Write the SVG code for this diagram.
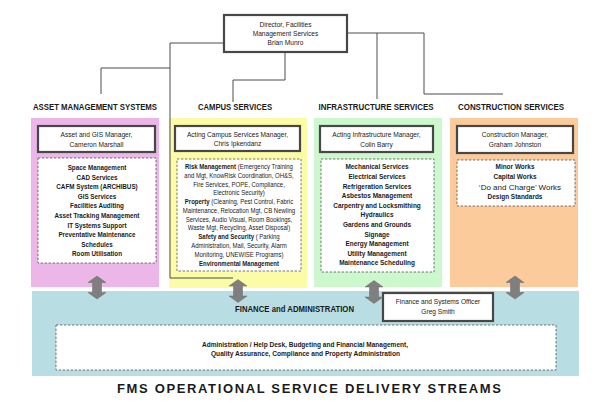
<svg xmlns="http://www.w3.org/2000/svg" width="600" height="409" viewBox="0 0 600 409">
<defs>
<style>
text{font-family:"Liberation Sans",Arial,sans-serif;fill:#1a1a1a;text-anchor:middle}
.hdr{font-size:8.5px;font-weight:bold}
.mgr{fill:#fff;stroke:#474747;stroke-width:2.2}
.mt{font-size:6.6px}
.dash{fill:#fff;stroke:#555;stroke-width:0.8;stroke-dasharray:2.4 1.6}
.lb{font-size:7.2px;font-weight:bold}
.ly{font-size:6.6px}
.b{font-weight:bold}
.conn{fill:none;stroke:#4d4d4d;stroke-width:1}
.arr{fill:#7f7f7f;stroke:#6a6a6a;stroke-width:0.5}
</style>
<path id="dbl" d="M0,-11.5 L9,-5 L4.5,-5 L4.5,5 L9,5 L0,11.5 L-9,5 L-4.5,5 L-4.5,-5 L-9,-5 Z"/>
</defs>
<rect width="600" height="409" fill="#fff"/>

<g id="panels">
<rect x="31" y="118" width="128" height="169" fill="#EDB6E9"/>
<rect x="169" y="118" width="138" height="170" fill="#FDFCA6"/>
<rect x="314" y="118" width="128" height="169" fill="#CDF7CD"/>
<rect x="450" y="118" width="128" height="169" fill="#FCCB9C"/>
<rect x="32" y="291" width="547" height="85" fill="#B8DEE3"/>
</g>

<g id="director">
<rect class="mgr" x="224" y="15" width="123" height="37"/>
<text class="mt" x="285.5" y="26.5" font-size="6.8">Director, Facilities</text>
<text class="mt" x="285.5" y="35.5">Management Services</text>
<text class="mt" x="285.5" y="45">Brian Munro</text>
</g>

<g id="connectors">
<polyline class="conn" points="224,43 170,43 170,278 233,278"/>
<polyline class="conn" points="170,68 101,68 101,94"/>
<polyline class="conn" points="285,52 285,80 233,80 233,102"/>
<polyline class="conn" points="347,33 424,33 424,94 503,94"/>
<polyline class="conn" points="377,33 377,99"/>
</g>

<g id="asset-management">
<text class="hdr" x="95" y="110" textLength="124" lengthAdjust="spacingAndGlyphs">ASSET MANAGEMENT SYSTEMS</text>
<rect class="mgr" x="38" y="126" width="117" height="26"/>
<text class="mt" x="96.5" y="136.5">Asset and GIS Manager,</text>
<text class="mt" x="96.5" y="146.5">Cameron Marshall</text>
<rect class="dash" x="38" y="158" width="118" height="105"/>
<g transform="translate(97,0) scale(0.875,1)">
<text class="lb" x="0" y="170">Space Management</text>
<text class="lb" x="0" y="179.6">CAD Services</text>
<text class="lb" x="0" y="189.2">CAFM System (ARCHIBUS)</text>
<text class="lb" x="0" y="198.8">GIS Services</text>
<text class="lb" x="0" y="208.4">Facilities Auditing</text>
<text class="lb" x="0" y="218">Asset Tracking Management</text>
<text class="lb" x="0" y="227.6">IT Systems Support</text>
<text class="lb" x="0" y="237.2">Preventative Maintenance</text>
<text class="lb" x="0" y="246.8">Schedules</text>
<text class="lb" x="0" y="256.4">Room Utilisation</text>
</g>
</g>

<g id="campus-services">
<text class="hdr" x="235" y="110" textLength="74" lengthAdjust="spacingAndGlyphs">CAMPUS SERVICES</text>
<rect class="mgr" x="175" y="126" width="125" height="25"/>
<text class="mt" x="237.5" y="136.5">Acting Campus Services Manager,</text>
<text class="mt" x="237.5" y="146">Chris Ipkendanz</text>
<rect class="dash" x="177" y="159" width="124" height="112"/>
<g transform="translate(239,0) scale(0.91,1)">
<text class="ly" x="0" y="169"><tspan class="b">Risk Management</tspan> (Emergency Training</text>
<text class="ly" x="0" y="177.8">and Mgt,  KnowRisk Coordination, OH&amp;S,</text>
<text class="ly" x="0" y="186.6">Fire Services, POPE, Compliance,</text>
<text class="ly" x="0" y="195.3">Electronic Security)</text>
<text class="ly" x="0" y="204.1"><tspan class="b">Property</tspan> (Cleaning, Pest Control, Fabric</text>
<text class="ly" x="0" y="212.9">Maintenance, Relocation Mgt, CB Newling</text>
<text class="ly" x="0" y="221.7">Services, Audio Visual, Room Bookings,</text>
<text class="ly" x="0" y="230.5">Waste Mgt,  Recycling, Asset Disposal)</text>
<text class="ly" x="0" y="239.2"><tspan class="b">Safety and Security</tspan> ( Parking</text>
<text class="ly" x="0" y="248">Administration, Mail, Security, Alarm</text>
<text class="ly" x="0" y="256.8">Monitoring, UNEWISE Programs)</text>
<text class="ly b" x="0" y="265.6">Environmental Management</text>
</g>
</g>

<g id="infrastructure-services">
<text class="hdr" x="376" y="110" textLength="115" lengthAdjust="spacingAndGlyphs">INFRASTRUCTURE  SERVICES</text>
<rect class="mgr" x="320" y="126" width="113" height="26"/>
<text class="mt" x="376.5" y="136.5">Acting Infrastructure Manager,</text>
<text class="mt" x="376.5" y="146.5">Colin Barry</text>
<rect class="dash" x="321" y="159" width="113" height="113"/>
<g transform="translate(377,0) scale(0.9,1)">
<text class="lb" x="0" y="169.5">Mechanical Services</text>
<text class="lb" x="0" y="179.1">Electrical Services</text>
<text class="lb" x="0" y="188.7">Refrigeration Services</text>
<text class="lb" x="0" y="198.3">Asbestos Management</text>
<text class="lb" x="0" y="207.9">Carpentry and Locksmithing</text>
<text class="lb" x="0" y="217.5">Hydraulics</text>
<text class="lb" x="0" y="227.1">Gardens and Grounds</text>
<text class="lb" x="0" y="236.7">Signage</text>
<text class="lb" x="0" y="246.3">Energy Management</text>
<text class="lb" x="0" y="255.9">Utility Management</text>
<text class="lb" x="0" y="265.5">Maintenance Scheduling</text>
</g>
</g>

<g id="construction-services">
<text class="hdr" x="511" y="110" textLength="106" lengthAdjust="spacingAndGlyphs">CONSTRUCTION  SERVICES</text>
<rect class="mgr" x="457" y="126" width="116" height="27"/>
<text class="mt" x="515" y="136.5">Construction Manager,</text>
<text class="mt" x="515" y="146.5">Graham Johnston</text>
<rect class="dash" x="457" y="160" width="118" height="46"/>
<g transform="translate(515,0) scale(0.9,1)">
<text class="lb" x="0" y="169.5">Minor Works</text>
<text class="lb" x="0" y="179.5">Capital  Works</text>
<text class="lb" x="0" y="199.5">Design Standards</text>
</g>
<text x="520" y="189.5" font-size="8">‘Do and Charge’ Works</text>
</g>

<g id="finance-administration">
<text x="294.5" y="311.5" font-size="8.5" font-weight="bold" textLength="119" lengthAdjust="spacingAndGlyphs">FINANCE and ADMINISTRATION</text>
<rect class="mgr" x="383" y="293" width="110" height="28"/>
<text class="mt" x="438" y="304">Finance and Systems Officer</text>
<text class="mt" x="438" y="313.5">Greg Smith</text>
<rect class="dash" x="56" y="325" width="500" height="45"/>
<text x="305" y="346.5" font-size="7.2" font-weight="bold" textLength="206" lengthAdjust="spacingAndGlyphs">Administration / Help Desk, Budgeting and Financial Management,</text>
<text x="305.5" y="356" font-size="7.2" font-weight="bold" textLength="189" lengthAdjust="spacingAndGlyphs">Quality Assurance, Compliance and Property Administration</text>
</g>

<g id="arrows">
<use href="#dbl" class="arr" transform="translate(97,287.5)"/>
<use href="#dbl" class="arr" transform="translate(238,291)"/>
<use href="#dbl" class="arr" transform="translate(374,292)"/>
<use href="#dbl" class="arr" transform="translate(515,287.5)"/>
</g>

<g id="title">
<text x="309" y="393" font-size="13" font-weight="bold" textLength="384" lengthAdjust="spacing">FMS OPERATIONAL SERVICE DELIVERY STREAMS</text>
</g>
</svg>
